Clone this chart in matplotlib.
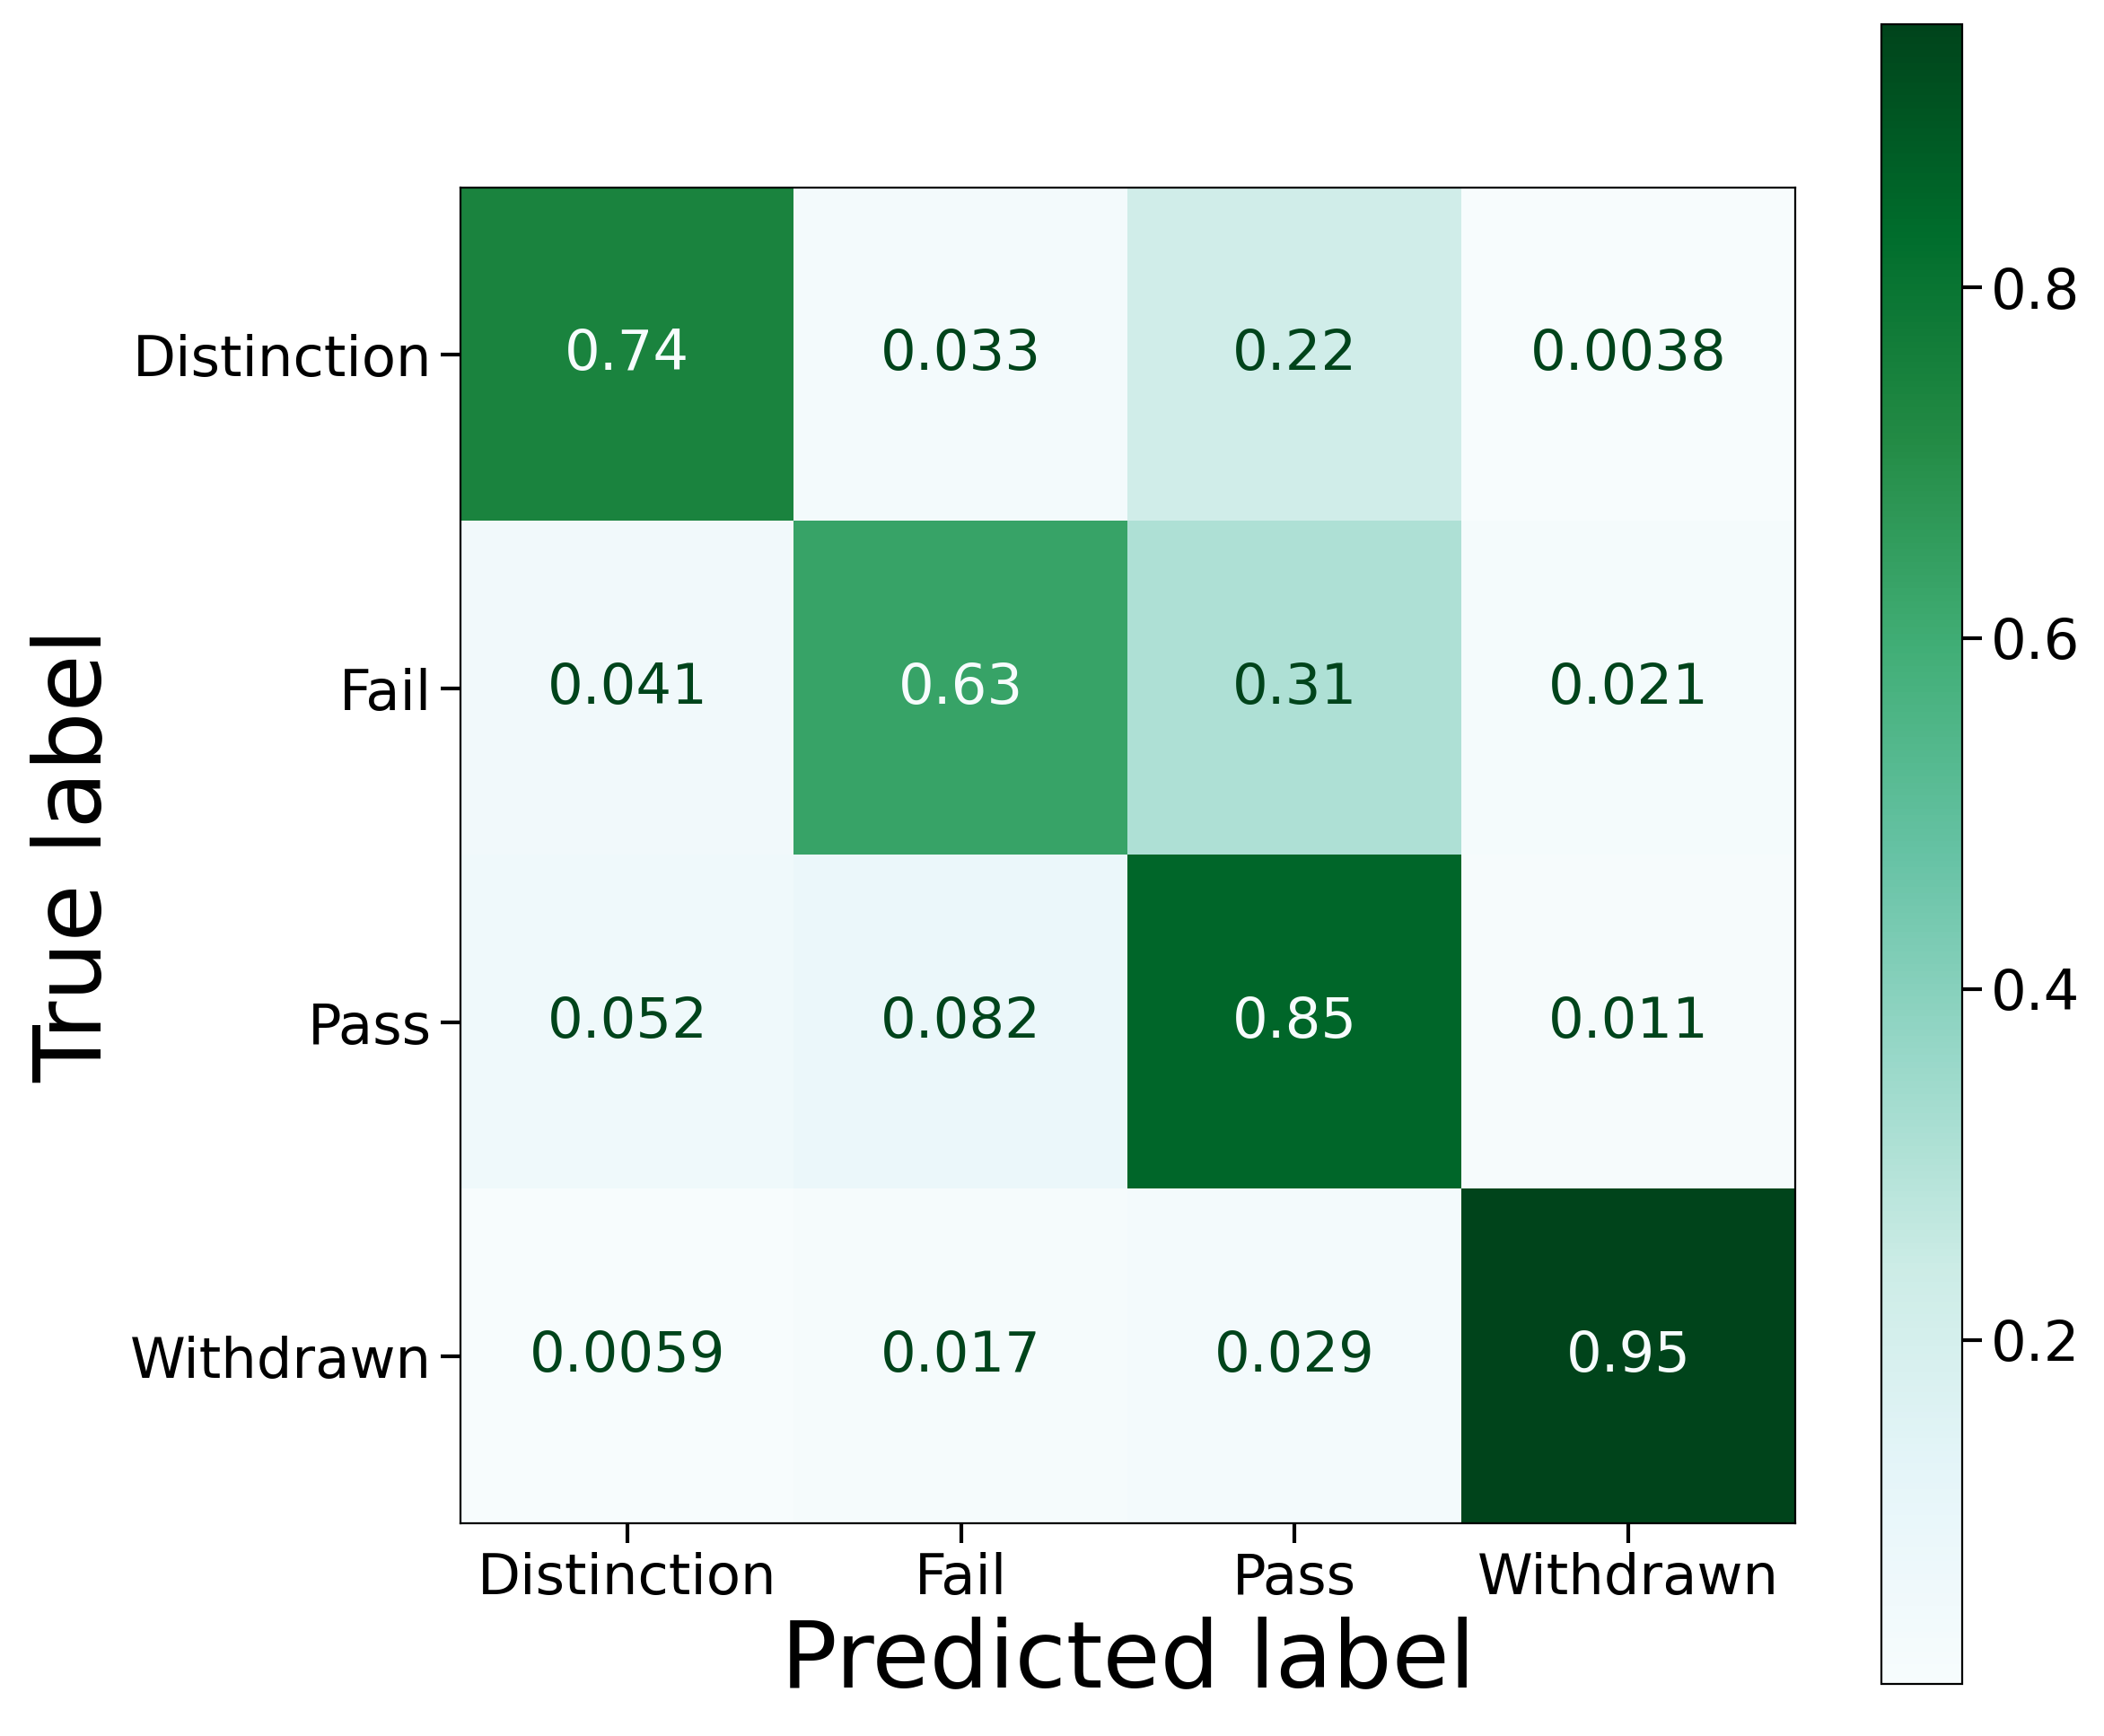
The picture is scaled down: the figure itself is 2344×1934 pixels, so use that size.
import numpy as np
import matplotlib
matplotlib.use("Agg")
import matplotlib.pyplot as plt

labels = ["Distinction", "Fail", "Pass", "Withdrawn"]
cm = np.array([
    [0.74, 0.033, 0.22, 0.0038],
    [0.041, 0.63, 0.31, 0.021],
    [0.052, 0.082, 0.85, 0.011],
    [0.0059, 0.017, 0.029, 0.95],
])

dpi = 200
fig = plt.figure(figsize=(2344 / dpi, 1934 / dpi), dpi=dpi)
W, H = 2344, 1934
ax = fig.add_axes([513 / W, 1 - 1697 / H, (2000 - 513) / W, (1697 - 209) / H])
cax = fig.add_axes([2096 / W, 1 - 1876 / H, (2186 - 2096) / W, (1876 - 27) / H])

fs = 22.5
cmap = plt.get_cmap("BuGn")
im = ax.imshow(cm, cmap=cmap, interpolation="nearest", aspect="auto")
vmin, vmax = im.get_clim()
thresh = (vmin + vmax) / 2.0
for i in range(cm.shape[0]):
    for j in range(cm.shape[1]):
        color = cmap(0) if cm[i, j] >= thresh else cmap(256)
        ax.text(j, i, f"{cm[i, j]:.2g}", ha="center", va="center",
                color=color, fontsize=fs)

ax.set_xticks(range(len(labels)))
ax.set_xticklabels(labels, fontsize=fs)
ax.set_yticks(range(len(labels)))
ax.set_yticklabels(labels, fontsize=fs)
ax.tick_params(length=8, width=1.5)
ax.set_xlabel("Predicted label", fontsize=37.5)
ax.set_ylabel("True label", fontsize=37.5)

cb = fig.colorbar(im, cax=cax)
cb.ax.tick_params(labelsize=fs, length=8, width=1.5)

fig.savefig("out.png", dpi=dpi)
